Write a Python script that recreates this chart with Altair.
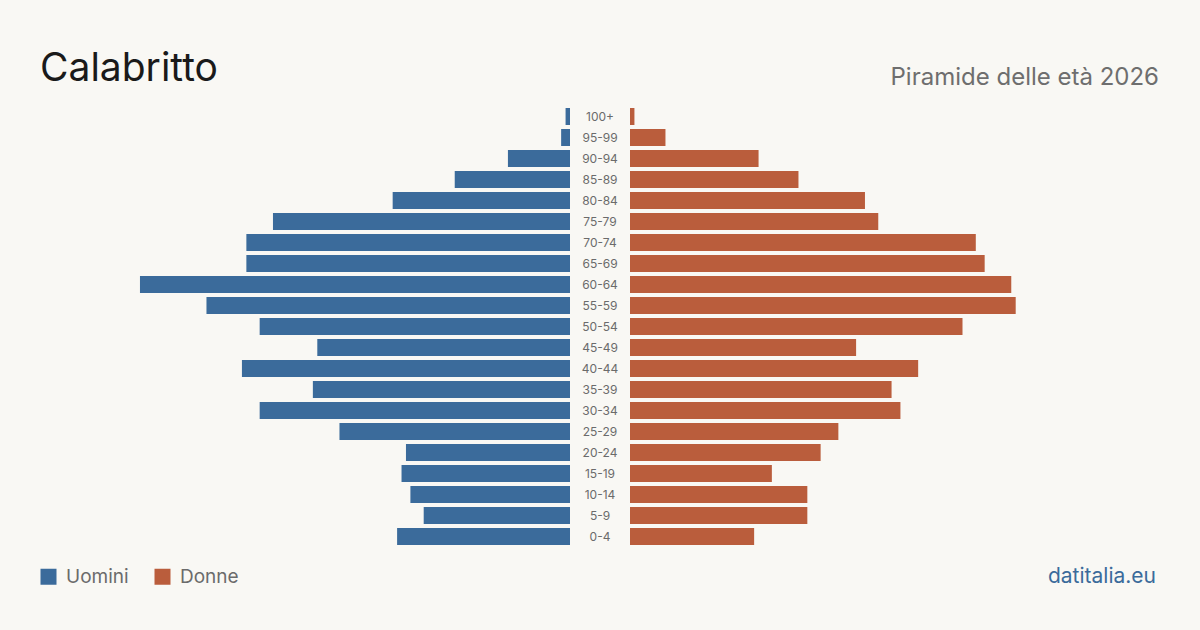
import altair as alt
import pandas as pd

# Age classes, top to bottom
eta = ["100+", "95-99", "90-94", "85-89", "80-84", "75-79", "70-74", "65-69",
       "60-64", "55-59", "50-54", "45-49", "40-44", "35-39", "30-34", "25-29",
       "20-24", "15-19", "10-14", "5-9", "0-4"]
uomini = [1, 2, 14, 26, 40, 67, 73, 73, 97, 82, 70, 57, 74, 58, 70, 52, 37, 38, 36, 33, 39]
donne = [1, 8, 29, 38, 53, 56, 78, 80, 86, 87, 75, 51, 65, 59, 61, 47, 43, 32, 40, 40, 28]

sessi = ["Uomini", "Donne"]
colori = ["#3B6B9B", "#BA5D3C"]

BG = "#F9F8F4"
FONT = "Inter"

df = pd.DataFrame(
    [{"eta": e, "sesso": "Uomini", "n": v} for e, v in zip(eta, uomini)]
    + [{"eta": e, "sesso": "Donne", "n": v} for e, v in zip(eta, donne)]
)
df_eta = pd.DataFrame({"eta": eta})

y_enc = alt.Y(
    "eta:N", sort=eta, axis=None,
    scale=alt.Scale(range=[106, 547], paddingInner=0.19, paddingOuter=0.095),
)
color_enc = alt.Color(
    "sesso:N",
    scale=alt.Scale(domain=sessi, range=colori),
    legend=alt.Legend(
        title=None, orient="none", legendX=39, legendY=567, direction="horizontal",
        symbolType="square", symbolSize=256, symbolStrokeWidth=0, symbolOpacity=1,
        labelFontSize=19, labelColor="#6b6b6b", labelFont=FONT, labelOffset=8,
        columnPadding=24, padding=0,
    ),
)

base = alt.Chart(df)

maschi = base.transform_filter(alt.datum.sesso == "Uomini").mark_bar().encode(
    x=alt.X("n:Q", axis=None, scale=alt.Scale(domain=[0, 120], range=[570, 38])),
    y=y_enc,
    color=color_enc,
)

femmine = base.transform_filter(alt.datum.sesso == "Donne").mark_bar().encode(
    x=alt.X("n:Q", axis=None, scale=alt.Scale(domain=[0, 120], range=[630, 1162])),
    y=y_enc,
    color=color_enc,
)

etichette = alt.Chart(df_eta).mark_text(
    font=FONT, fontSize=12, color="#6b6b6b", align="center", baseline="middle"
).encode(
    x=alt.value(600),
    y=y_enc,
    text="eta:N",
)

def testo(t, x, y, size, color, align="left"):
    return alt.Chart(pd.DataFrame({"t": [t]})).mark_text(
        font=FONT, fontSize=size, color=color, align=align, baseline="alphabetic"
    ).encode(x=alt.value(x), y=alt.value(y), text="t:N")

titolo = testo("Calabritto", 40, 81, 39, "#1a1a1a")
sottotitolo = testo("Piramide delle età 2026", 1159, 85, 24, "#6e6e6e", align="right")
fonte = testo("datitalia.eu", 1156, 583, 21, "#3B6B9B", align="right")

chart = alt.layer(maschi, femmine, etichette, titolo, sottotitolo, fonte).resolve_scale(
    x="independent"
).properties(
    width=1200, height=630, padding=0, background=BG,
    autosize=alt.AutoSizeParams(type="none"),
).configure_view(stroke=None, fill=BG)

chart.save("out.html", embed_options={"renderer": "svg", "actions": False})
